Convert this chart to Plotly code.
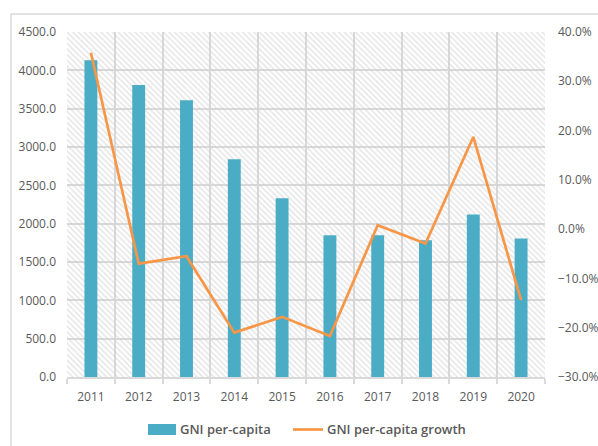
import plotly.graph_objects as go

# GNI per-capita (left axis) and its yearly growth rate (right axis)
years = [2011, 2012, 2013, 2014, 2015, 2016, 2017, 2018, 2019, 2020]
gni_per_capita = [4130, 3810, 3610, 2840, 2330, 1850, 1850, 1785, 2120, 1805]
gni_growth = [0.358, -0.070, -0.055, -0.210, -0.178, -0.217, 0.008, -0.029, 0.187, -0.144]

BAR_COLOR = "#4BACC6"
LINE_COLOR = "#F79646"
GRID = "#d9d9d9"
TEXT = "#595959"
FONT = "Open Sans"

# plot-area geometry in pixels, used to place the legend and frame
W, H = 598, 446
ML, MR, MT, MB = 67, 53, 32, 69
PW, PH = W - ML - MR, H - MT - MB
Y_RANGE = [0, 4500]


def px(x):
    return (x - ML) / PW


def py(y):
    return (H - MB - y) / PH


fig = go.Figure()

# hatched plot-area background (base subplot, below the bars)
x0, x1 = years[0] - 0.5, years[-1] + 0.5
fig.add_trace(go.Scatter(
    x=[x0, x1, x1, x0, x0], y=[Y_RANGE[0]] * 2 + [Y_RANGE[1]] * 2 + [Y_RANGE[0]],
    mode="lines", line=dict(width=0), fill="toself",
    fillcolor="rgba(0,0,0,0)",
    fillpattern=dict(shape="\\", fgcolor="#cdcdcd", bgcolor="rgba(0,0,0,0)",
                     size=4, solidity=0.4),
    hoverinfo="skip", showlegend=False,
))

# bars on an overlaid copy of the left axis so they sit above the hatching
fig.add_trace(go.Bar(
    x=years, y=gni_per_capita, name="GNI per-capita", yaxis="y2",
    marker=dict(color=BAR_COLOR, line=dict(width=0)),
    width=0.27, showlegend=False,
))

fig.add_trace(go.Scatter(
    x=years, y=gni_growth, name="GNI per-capita growth", yaxis="y3",
    mode="lines", line=dict(color=LINE_COLOR, width=2.7), showlegend=False,
))

legend_font = dict(family=FONT, size=13, color=TEXT, weight=600)

fig.update_layout(
    width=W, height=H,
    margin=dict(l=ML, r=MR, t=MT, b=MB),
    paper_bgcolor="white", plot_bgcolor="white",
    font=dict(family=FONT, size=12, color=TEXT),
    showlegend=False,
    xaxis=dict(
        range=[x0, x1], tickvals=years, ticktext=[str(y) for y in years],
        showgrid=False, ticks="", zeroline=False,
        showline=True, linecolor=GRID, linewidth=1.5,
        ticklabelstandoff=8, automargin=False,
        tickfont=dict(size=12, color=TEXT),
        minor=dict(tick0=x0, dtick=1, showgrid=True, gridcolor=GRID, gridwidth=1.5,
                   ticks="outside", ticklen=5, tickcolor=GRID, tickwidth=1.5),
        fixedrange=True,
    ),
    yaxis=dict(
        range=Y_RANGE, dtick=500, tickformat=".1f",
        showgrid=True, gridcolor=GRID, gridwidth=1.5, zeroline=False,
        showline=False, ticks="", ticklabelstandoff=10, automargin=False,
        tickfont=dict(size=12, color=TEXT),
    ),
    yaxis2=dict(
        range=Y_RANGE, overlaying="y", visible=False,
        showgrid=False, zeroline=False, automargin=False,
    ),
    yaxis3=dict(
        range=[-0.3, 0.4], dtick=0.1, tickformat=".1%",
        overlaying="y", side="right", showgrid=False, zeroline=False,
        showline=False, ticks="", ticklabelstandoff=12, automargin=False,
        tickfont=dict(size=12, color=TEXT),
    ),
    shapes=[
        # chart frame (left and top edges)
        dict(type="path", xref="paper", yref="paper",
             path=f"M {px(11)},{py(470)} L {px(11)},{py(14)} L {px(620)},{py(14)}",
             line=dict(color=GRID, width=1.5)),
        # legend swatches
        dict(type="rect", xref="paper", yref="paper",
             x0=px(148), x1=px(176), y0=py(435), y1=py(424),
             fillcolor=BAR_COLOR, line=dict(width=0)),
        dict(type="line", xref="paper", yref="paper",
             x0=px(293), x1=px(323), y0=py(429.5), y1=py(429.5),
             line=dict(color=LINE_COLOR, width=2.7)),
    ],
    annotations=[
        dict(text="GNI per-capita", xref="paper", yref="paper",
             x=px(178), y=py(429), xanchor="left", yanchor="middle",
             showarrow=False, font=legend_font),
        dict(text="GNI per-capita growth", xref="paper", yref="paper",
             x=px(325), y=py(429), xanchor="left", yanchor="middle",
             showarrow=False, font=legend_font),
    ],
)

fig.write_html("out.html")
